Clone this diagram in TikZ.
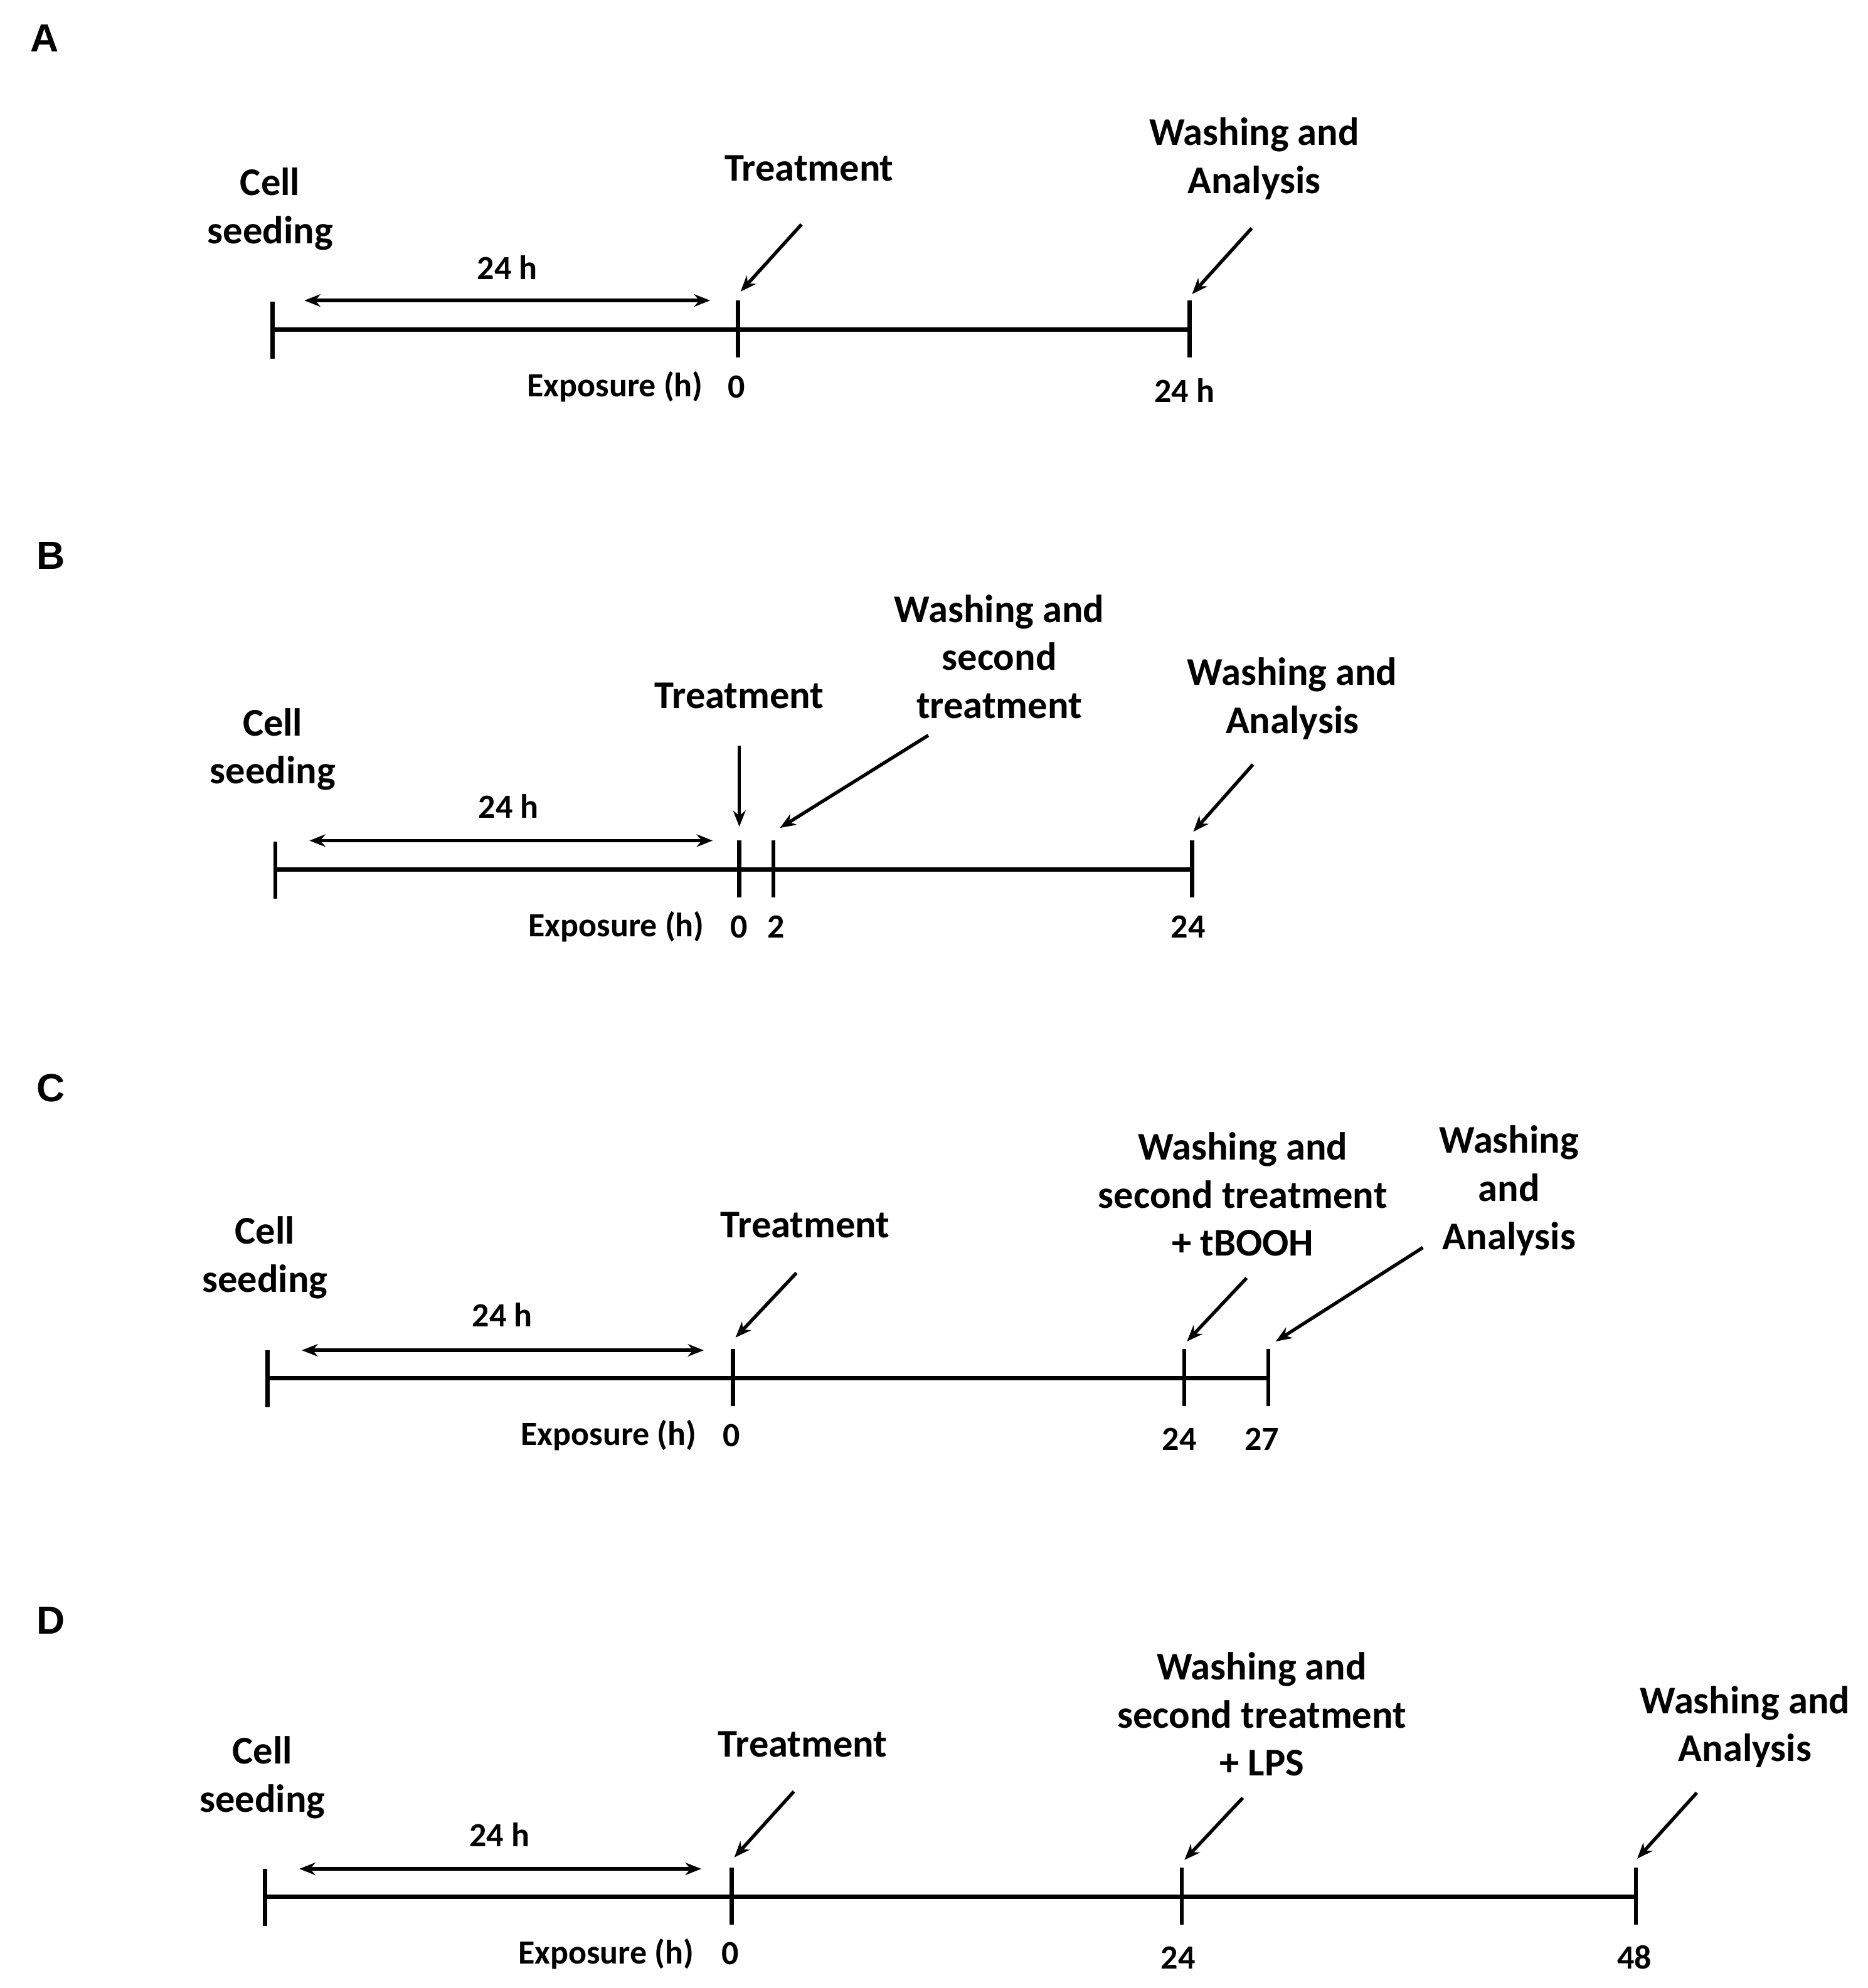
\documentclass[tikz,border=0pt]{standalone}
\usepackage{fontspec}
\setmainfont{Carlito}
\newfontfamily\arialf{Liberation Sans}
\usetikzlibrary{arrows.meta}
\begin{document}
\begin{tikzpicture}[x=0.05cm,y=-0.05cm,
  ax/.style={line width=5pt},
  tk/.style={line width=4.5pt},
  ar/.style={line width=3.8pt,-{Stealth[length=18pt,width=14pt]}},
  dar/.style={line width=3.8pt,{Stealth[length=18pt,width=14pt]}-{Stealth[length=18pt,width=14pt]}},
  big/.style={font=\fontsize{44}{54}\selectfont\bfseries,align=center,inner sep=0pt},
  sm/.style={font=\fontsize{38}{44}\selectfont\bfseries,inner sep=0pt},
  pl/.style={font=\fontsize{44}{50}\selectfont\arialf\bfseries,inner sep=0pt}]
\useasboundingbox (0,0) rectangle (1473,1568);
% Panel A
\node[pl] (pA) at (35,30) {A};
\coordinate (a0) at (215,260); \coordinate (a1) at (582,260); \coordinate (a2) at (938,260);
\draw[ax] (a0) -- (a2);
\draw[tk] (215,238) -- (215,283); \draw[tk] (582,237) -- (582,282); \draw[tk] (938,237) -- (938,282);
\coordinate (ad1) at (240,237); \coordinate (ad2) at (560,237);
\draw[dar] (ad1) -- (ad2);
\node[sm] (a24) at (400,211) {24 h};
\node[big] (acs) at (213,165) {Cell\\seeding};
\node[big] (atr) at (638,133) {Treatment};
\coordinate (aa1) at (632,177); \coordinate (aa1e) at (584,230);
\draw[ar] (aa1) -- (aa1e);
\node[big] (awa) at (989,125) {Washing and\\Analysis};
\coordinate (aa2) at (987,180); \coordinate (aa2e) at (940,232);
\draw[ar] (aa2) -- (aa2e);
\node[sm] (aex) at (485,305) {Exposure (h)};
\node[sm] (al0) at (581,305) {0};
\node[sm] (al1) at (934,308) {24 h};
% Panel B
\node[pl] (pB) at (40,438) {B};
\coordinate (b0) at (217,686); \coordinate (b3) at (940,686);
\draw[ax] (b0) -- (b3);
\draw[tk] (217,664) -- (217,709); \draw[tk] (583,663) -- (583,708); \draw[tk] (610,663) -- (610,708); \draw[tk] (940,663) -- (940,708);
\coordinate (bd1) at (244,663); \coordinate (bd2) at (562,663);
\draw[dar] (bd1) -- (bd2);
\node[sm] (b24) at (401,636) {24 h};
\node[big] (bcs) at (215,591) {Cell\\seeding};
\node[big] (btr) at (583,549) {Treatment};
\coordinate (ba1) at (583,588); \coordinate (ba1e) at (583,652);
\draw[ar] (ba1) -- (ba1e);
\node[big] (bws) at (788,518) {Washing and\\second\\treatment};
\coordinate (ba2) at (732,580); \coordinate (ba2e) at (615,653);
\draw[ar] (ba2) -- (ba2e);
\node[big] (bwa) at (1019,551) {Washing and\\Analysis};
\coordinate (ba3) at (988,603); \coordinate (ba3e) at (941,656);
\draw[ar] (ba3) -- (ba3e);
\node[sm] (bex) at (486,731) {Exposure (h)};
\node[sm] (bl0) at (583,731) {0};
\node[sm] (bl1) at (612,731) {2};
\node[sm] (bl2) at (937,731) {24};
% Panel C
\node[pl] (pC) at (40,858) {C};
\coordinate (c0) at (211,1087); \coordinate (c3) at (1000,1087);
\draw[ax] (c0) -- (c3);
\draw[tk] (211,1065) -- (211,1110); \draw[tk] (578,1064) -- (578,1109); \draw[tk] (934,1064) -- (934,1109); \draw[tk] (1000,1064) -- (1000,1109);
\coordinate (cd1) at (238,1065); \coordinate (cd2) at (555,1065);
\draw[dar] (cd1) -- (cd2);
\node[sm] (c24) at (396,1037) {24 h};
\node[big] (ccs) at (209,992) {Cell\\seeding};
\node[big] (ctr) at (635,966) {Treatment};
\coordinate (ca1) at (628,1004); \coordinate (ca1e) at (580,1055);
\draw[ar] (ca1) -- (ca1e);
\node[big] (cws) at (980,942) {Washing and\\second treatment\\+ tBOOH};
\coordinate (ca2) at (983,1008); \coordinate (ca2e) at (936,1058);
\draw[ar] (ca2) -- (ca2e);
\node[big] (cwa) at (1190,939) {Washing\\and\\Analysis};
\coordinate (ca3) at (1122,984); \coordinate (ca3e) at (1006,1058);
\draw[ar] (ca3) -- (ca3e);
\node[sm] (cex) at (480,1132) {Exposure (h)};
\node[sm] (cl0) at (577,1132) {0};
\node[sm] (cl1) at (930,1135) {24};
\node[sm] (cl2) at (995,1135) {27};
% Panel D
\node[pl] (pD) at (40,1278) {D};
\coordinate (d0) at (209,1496); \coordinate (d3) at (1290,1496);
\draw[ax] (d0) -- (d3);
\draw[tk] (209,1474) -- (209,1519); \draw[tk] (577,1473) -- (577,1518); \draw[tk] (932,1473) -- (932,1518); \draw[tk] (1290,1473) -- (1290,1518);
\coordinate (dd1) at (236,1474); \coordinate (dd2) at (553,1474);
\draw[dar] (dd1) -- (dd2);
\node[sm] (d24) at (394,1447) {24 h};
\node[big] (dcs) at (207,1402) {Cell\\seeding};
\node[big] (dtr) at (633,1376) {Treatment};
\coordinate (da1) at (626,1413); \coordinate (da1e) at (579,1465);
\draw[ar] (da1) -- (da1e);
\node[big] (dws) at (995,1352) {Washing and\\second treatment\\+ LPS};
\coordinate (da2) at (980,1418); \coordinate (da2e) at (934,1467);
\draw[ar] (da2) -- (da2e);
\node[big] (dwa) at (1376,1362) {Washing and\\Analysis};
\coordinate (da3) at (1338,1414); \coordinate (da3e) at (1291,1466);
\draw[ar] (da3) -- (da3e);
\node[sm] (dex) at (478,1541) {Exposure (h)};
\node[sm] (dl0) at (576,1541) {0};
\node[sm] (dl1) at (929,1544) {24};
\node[sm] (dl2) at (1289,1544) {48};
\end{tikzpicture}
\end{document}
